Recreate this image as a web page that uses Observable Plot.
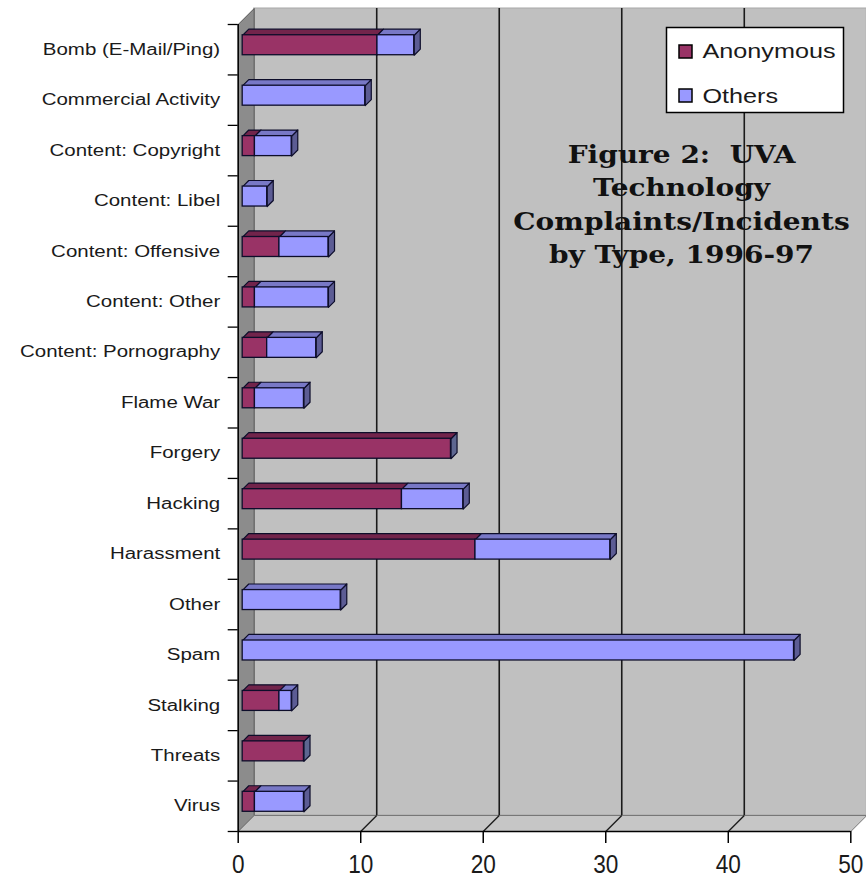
<!DOCTYPE html>
<html><head><meta charset="utf-8">
<script src="https://cdn.jsdelivr.net/npm/d3@7"></script>
<script src="https://cdn.jsdelivr.net/npm/@observablehq/plot@0.6"></script>
<style>
html,body{margin:0;padding:0;background:#fff;}
svg text{white-space:pre;}
</style></head><body><div id="chart"></div>
<script>
// ---- data ----
const categories = ["Bomb (E-Mail/Ping)", "Commercial Activity", "Content: Copyright", "Content: Libel",
  "Content: Offensive", "Content: Other", "Content: Pornography", "Flame War", "Forgery", "Hacking",
  "Harassment", "Other", "Spam", "Stalking", "Threats", "Virus"];
const anonymous = [11, 0, 1, 0, 3, 1, 2, 1, 17, 13, 19, 0, 0, 3, 5, 1];
const others    = [3, 10, 3, 2, 4, 6, 4, 4, 0, 5, 11, 8, 45, 1, 0, 4];
const seriesNames = ["Anonymous", "Others"];
const xTicks = [0, 10, 20, 30, 40, 50];
const titleLines = ["Figure 2:  UVA", "Technology", "Complaints/Incidents", "by Type, 1996-97"];

// ---- layout / style ----
const W = 866, H = 882, mL = 237.7, mR = 15.7, mT = 24, mB = 51;
const xMax = 50, n = categories.length;
const depthPx = 16;
const pxX = (W - mL - mR) / xMax, pxY = (H - mT - mB) / n;
const DXu = depthPx / pxX, DYu = -depthPx / pxY;
const d0 = 0.28, d1 = 0.66, half = 0.198;
const P = (x, y, d) => ({x: x + d * DXu, y: y + d * DYu});
const sans = "Liberation Sans, Arial, sans-serif";
const serif = "DejaVu Serif, serif";
const colors = {
  Anonymous: {front: "#993366", top: "#72244b", side: "#5d6690"},
  Others: {front: "#9999ff", top: "#7878c6", side: "#5c5c94"}
};
const edge = "#0d0d2a";

// ---- build segments ----
const segs = [];
categories.forEach((c, i) => {
  let x = 0;
  [anonymous[i], others[i]].forEach((v, k) => {
    if (v > 0) { segs.push({i, cat: c, series: seriesNames[k], x0: x, x1: x + v}); x += v; }
  });
});
segs.forEach(s => { s.last = !segs.some(t => t.i === s.i && t.x0 >= s.x1); });

const polyRows = (polys) => polys.flatMap((p, id) =>
  [...p.pts, p.pts[0]].map(v => ({id, x: v.x, y: v.y, fill: p.fill})));

const walls = [
  {fill: "#8c8c8c", pts: [P(0, -0.5, 0), P(0, -0.5, 1), P(0, n - 0.5, 1), P(0, n - 0.5, 0)]},
];
const floor = [
  {fill: "#c6c6c6", pts: [P(0, n - 0.5, 0), P(0, n - 0.5, 1), P(xMax, n - 0.5, 1), P(xMax, n - 0.5, 0)]}
];
const sides = segs.filter(s => s.last).map(s => ({fill: colors[s.series].side,
  pts: [P(s.x1, s.i - half, d0), P(s.x1, s.i - half, d1), P(s.x1, s.i + half, d1), P(s.x1, s.i + half, d0)]}));
const tops = segs.map(s => ({fill: colors[s.series].top,
  pts: [P(s.x0, s.i - half, d0), P(s.x1, s.i - half, d0), P(s.x1, s.i - half, d1), P(s.x0, s.i - half, d1)]}));

const polyMark = (polys, stroke, sw) => Plot.line(polyRows(polys), {
  x: "x", y: "y", z: "id", fill: "fill", stroke, strokeWidth: sw, strokeLinejoin: "round", curve: "linear"});

const frameBox = (l, t, r, b, opts) => Plot.frame({
  insetLeft: l - mL, insetTop: t - mT, insetRight: (W - mR) - r, insetBottom: (H - mB) - b, ...opts});

const inner = xTicks.slice(1, -1);

const marks = [
  Plot.rect([0], {x1: () => 0, x2: () => xMax, y1: () => -0.5, y2: () => n - 0.5,
    dx: depthPx, dy: -depthPx, fill: "#c0c0c0", stroke: "#a8a8a8", strokeWidth: 1}),
  polyMark(walls, "#555", 1),
  polyMark(floor, "#777", 1),
  Plot.ruleX(inner, {x: d => d, y1: () => -0.5, y2: () => n - 0.5, dx: depthPx, dy: -depthPx,
    stroke: "#1a1a1a", strokeWidth: 1.6}),
  Plot.link(inner, {x1: d => d, y1: () => n - 0.5, x2: d => d + DXu, y2: () => n - 0.5 + DYu,
    stroke: "#1a1a1a", strokeWidth: 1.3}),
  polyMark(sides, edge, 1.2),
  polyMark(tops, edge, 1.2),
  Plot.rect(segs, {x1: "x0", x2: "x1", y1: s => s.i - half, y2: s => s.i + half,
    dx: d0 * depthPx, dy: -d0 * depthPx, fill: s => colors[s.series].front, stroke: edge, strokeWidth: 1.3}),
  Plot.ruleX([0], {x: d => d, y1: () => -0.5, y2: () => n - 0.5, stroke: "#000", strokeWidth: 1.5}),
  Plot.ruleY([n - 0.5], {y: d => d, x1: () => 0, x2: () => xMax, stroke: "#000", strokeWidth: 1.5}),
  Plot.axisY({ticks: d3.range(n + 1).map(k => k - 0.5), tickSize: 10, tickFormat: () => "",
    label: null, strokeWidth: 1.3}),
  Plot.axisY({ticks: d3.range(n), tickSize: 0, tickPadding: 18, tickFormat: i => categories[i],
    label: null, fontSize: 16, fontFamily: sans, fill: "#1a1a1a"}),
  Plot.axisX({ticks: xTicks, tickSize: 12, tickPadding: 11, tickFormat: d => String(d),
    label: null, fontSize: 26, fontFamily: sans, strokeWidth: 1.5, fill: "#1a1a1a"}),
  frameBox(666, 27, 843, 112, {fill: "white", stroke: "#000", strokeWidth: 1.5}),
  frameBox(678.5, 44.5, 691.5, 57.5, {fill: colors.Anonymous.front, stroke: "#000", strokeWidth: 1.5}),
  frameBox(678.5, 88.5, 691.5, 101.5, {fill: colors.Others.front, stroke: "#000", strokeWidth: 1.5}),
  ...seriesNames.map((s, k) => Plot.text([s], {text: d => d, frameAnchor: "top-left",
    dx: 702 - mL, dy: (57.5 + 44.5 * k) - mT, textAnchor: "start", lineAnchor: "bottom",
    fontSize: 21, fontFamily: sans, fill: "#1a1a1a"})),
  ...titleLines.map((t, k) => Plot.text([t], {text: d => d, frameAnchor: "top-left",
    dx: 681 - mL, dy: (162 + 33.5 * k) - mT, textAnchor: "middle", lineAnchor: "bottom",
    fontSize: 25, fontWeight: "bold", fontFamily: serif, fill: "#111"}))
];

const chart = Plot.plot({
  width: W, height: H, marginLeft: mL, marginRight: mR, marginTop: mT, marginBottom: mB,
  x: {domain: [0, xMax]},
  y: {domain: [-0.5, n - 0.5], reverse: true},
  style: {fontFamily: sans, background: "white", overflow: "visible"},
  marks
});
document.getElementById("chart").appendChild(chart);

// horizontal stretch of the lettering (glyphs widened about each text's anchor point)
const stretch = new Map();
categories.forEach(c => stretch.set(c, 1.28));
xTicks.forEach(t => stretch.set(String(t), 0.87));
seriesNames.forEach(s => stretch.set(s, 1.2));
titleLines.forEach(t => stretch.set(t, 1.12));
chart.querySelectorAll("text").forEach(t => {
  const s = t.textContent;
  const k = stretch.get(s);
  if (s && k) {
    const tr = t.getAttribute("transform") || "";
    t.setAttribute("transform", `${tr} scale(${k},1)`);
  }
});
</script></body></html>
